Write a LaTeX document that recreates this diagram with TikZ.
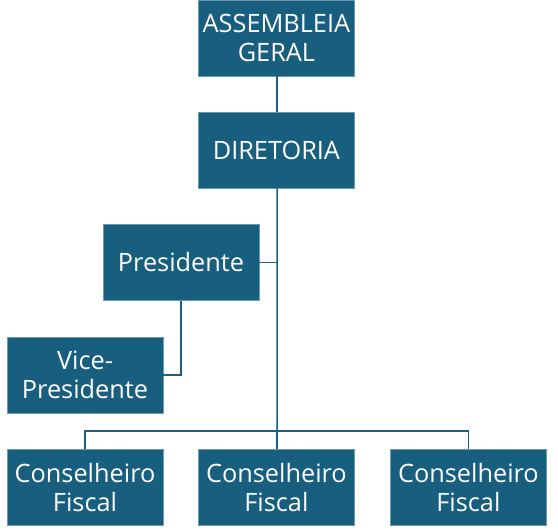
\documentclass[tikz,border=0pt]{standalone}
\usepackage{fontspec}
\setmainfont{Open Sans}
\definecolor{boxblue}{HTML}{185E7F}
\definecolor{edgeblue}{HTML}{6E98AC}
\definecolor{linkblue}{HTML}{1D5F7E}
\begin{document}
\begin{tikzpicture}[
        every node/.style={font=\fontsize{18}{21}\selectfont},
        orgbox/.style={rectangle, draw=edgeblue, line width=0.5pt, fill=boxblue, text=white, minimum width=3.9cm, minimum height=1.9cm, align=center, inner sep=1pt},
        link/.style={draw=linkblue, line width=1.1pt}
        ]
        \useasboundingbox (0,0) rectangle (13.95,13.25);

        % Top of the chart
        \node[orgbox] (assembleia) at (6.91, 12.3) {ASSEMBLEIA\\GERAL};
        \node[orgbox] (diretoria) at (6.91, 9.5) {DIRETORIA};

        % Executive boxes
        \node[orgbox] (presidente) at (4.525, 6.69) {Presidente};
        \node[orgbox] (vice) at (2.125, 3.875) {Vice-\\Presidente};

        % Fiscal council row
        \node[orgbox] (fiscalA) at (2.125, 1.06) {Conselheiro\\Fiscal};
        \node[orgbox] (fiscalB) at (6.91, 1.06) {Conselheiro\\Fiscal};
        \node[orgbox] (fiscalC) at (11.71, 1.06) {Conselheiro\\Fiscal};

        \coordinate (bus) at (6.93, 2.475);

        % Connectors
        \draw[link] ([xshift=0.02cm]assembleia.south) -- ([xshift=0.02cm]diretoria.north);
        \draw[link] ([xshift=0.02cm]diretoria.south) -- (bus);
        \draw[link] (presidente.east) -- (presidente.east -| bus);
        \draw[link] (presidente.south) |- (vice.east);
        \draw[link] (fiscalA.north) |- (bus) -| (fiscalC.north);
        \draw[link] (bus) -- (bus |- fiscalB.north);

\end{tikzpicture}
\end{document}
